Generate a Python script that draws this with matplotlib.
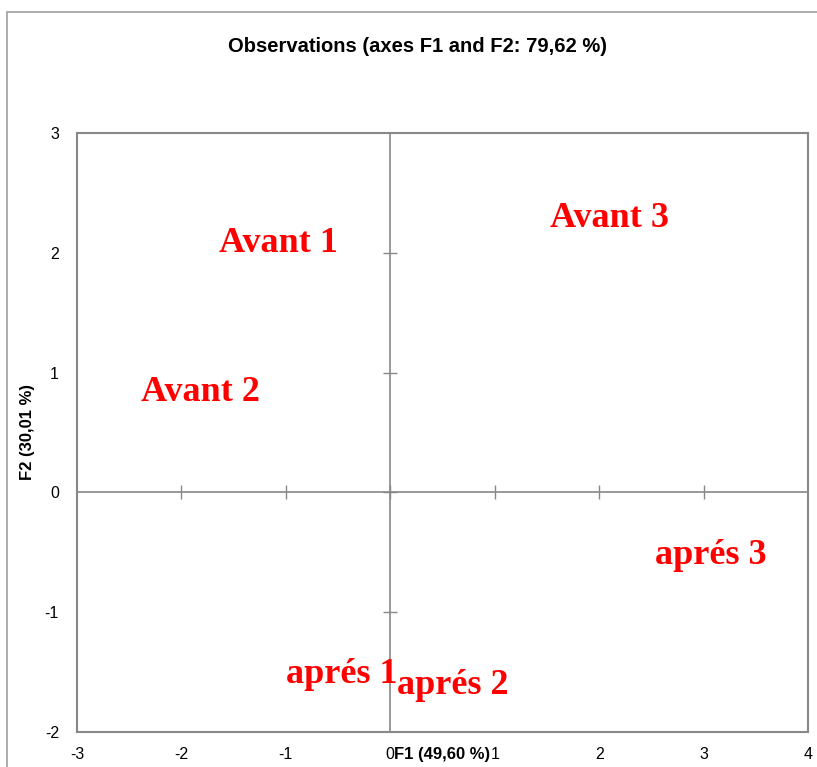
import matplotlib
matplotlib.use("Agg")
import matplotlib.pyplot as plt
from matplotlib.patches import Rectangle
from matplotlib import font_manager

labels = ["Avant 1", "Avant 2", "Avant 3", "aprés 1", "aprés 2", "aprés 3"]
f1 = [-1.07, -1.82, 2.10, -0.46, 0.60, 3.07]
f2 = [2.08, 0.83, 2.29, -1.52, -1.61, -0.53]
xticks = [-3, -2, -1, 0, 1, 2, 3, 4]
yticks = [-2, -1, 0, 1, 2, 3]

avail = {f.name for f in font_manager.fontManager.ttflist}
sans = [f for f in ["Liberation Sans Narrow", "Liberation Sans", "DejaVu Sans"] if f in avail]
plt.rcParams['font.family'] = sans
plt.rcParams['axes.unicode_minus'] = False

fig = plt.figure(figsize=(8.17, 7.67), dpi=100)
fig.patches.append(Rectangle((7/817, -0.1), 1.2, 1 - 12/767 + 0.1, transform=fig.transFigure,
                             fill=False, edgecolor="#a0a0a0", linewidth=1.2))
ax = fig.add_axes([77/817, 1 - 732/767, 731/817, 599/767])
ax.set_xlim(-3, 4)
ax.set_ylim(-2, 3)
for s in ax.spines.values():
    s.set_color("#888888")
    s.set_linewidth(1.5)

ax.axhline(0, color="#888888", lw=1.2, zorder=1)
ax.axvline(0, color="#888888", lw=1.2, zorder=1)
ax.scatter([x for x in xticks if x not in (-3, 4)], [0]*6, marker="|", s=100, color="#888888", lw=1.0, zorder=1)
ax.scatter([0]*4, [y for y in yticks if y not in (-2, 3, 0)] + [0], marker="_", s=100, color="#888888", lw=1.0, zorder=1)

ax.set_xticks(xticks)
ax.set_yticks(yticks)
ax.tick_params(length=0, labelsize=11.5, colors="black")
ax.tick_params(axis="x", pad=11)
ax.tick_params(axis="y", pad=13)

for lab, x, y in zip(labels, f1, f2):
    ax.text(x, y, lab, color="red", fontsize=26, fontweight="bold",
            family=["Liberation Serif", "DejaVu Serif"], ha="center", va="center")

ax.set_xlabel("F1 (49,60 %)", fontsize=12, fontweight="bold")
ax.xaxis.set_label_coords(0.5, -0.025)
ax.set_ylabel("F2 (30,01 %)", fontsize=12, fontweight="bold")
ax.yaxis.set_label_coords(-0.057, 0.5)

fig.text(418/817, 1 - 47/767, "Observations (axes F1 and F2: 79,62 %)", fontsize=14.5,
         fontweight="bold", ha="center", va="center")

fig.savefig("out.png", dpi=100)
